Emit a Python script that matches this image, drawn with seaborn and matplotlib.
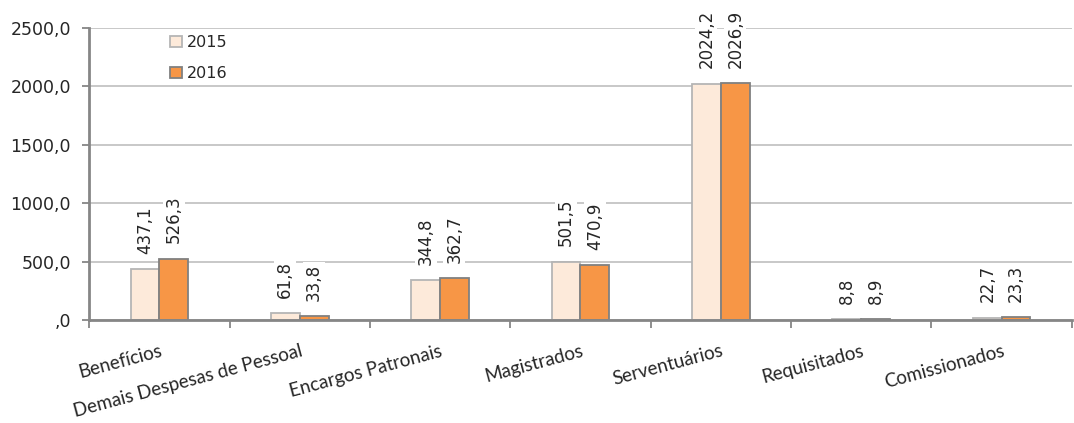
import pandas as pd
import seaborn as sns
import matplotlib.pyplot as plt
from matplotlib.ticker import FuncFormatter, FixedLocator

categories = ['Benefícios', 'Demais Despesas de Pessoal', 'Encargos Patronais',
              'Magistrados', 'Serventuários', 'Requisitados', 'Comissionados']
values_2015 = [437.1, 61.8, 344.8, 501.5, 2024.2, 8.8, 22.7]
values_2016 = [526.3, 33.8, 362.7, 470.9, 2026.9, 8.9, 23.3]
years = ['2015', '2016']

sns.set_theme(style='white')
plt.rcParams['font.family'] = ['DejaVu Sans']

data = pd.DataFrame({
    'categoria': categories * 2,
    'valor': values_2015 + values_2016,
    'ano': [years[0]] * len(categories) + [years[1]] * len(categories),
})

fig = plt.figure(figsize=(10.74, 4.23), dpi=100)
ax = fig.add_axes([0.083, 0.243, 0.915, 0.691])

palette = {'2015': '#FDEADA', '2016': '#F79646'}
sns.barplot(data=data, x='categoria', y='valor', hue='ano', palette=palette,
            width=0.41, gap=0, saturation=1, ax=ax, legend=True)

edge = {'2015': '#B5B5B5', '2016': '#808080'}
for cont, yr in zip(ax.containers, years):
    for b in cont:
        b.set_edgecolor(edge[yr])
        b.set_linewidth(1.3)
    ax.bar_label(cont, labels=[f'{v:.1f}'.replace('.', ',') for v in cont.datavalues],
                 rotation=90, padding=11, fontsize=12,
                 bbox=dict(facecolor='white', edgecolor='none', pad=1.5))

ax.set_ylim(0, 2500)
ax.set_xlim(-0.5, len(categories) - 0.5)
ax.yaxis.set_major_locator(FixedLocator([0, 500, 1000, 1500, 2000, 2500]))
ax.yaxis.set_major_formatter(FuncFormatter(
    lambda v, p: ',0' if v == 0 else f'{v:.1f}'.replace('.', ',')))
ax.grid(axis='y', color='#C4C4C4', linewidth=1.3)
ax.set_axisbelow(True)

ax.set_xticks(range(len(categories)))
ax.set_xticklabels(categories, rotation=15, ha='right', va='top',
                   rotation_mode='anchor', fontsize=13.5, family=['Lato', 'DejaVu Sans'])
ax.set_xticks([i - 0.5 for i in range(len(categories) + 1)], minor=True)
ax.tick_params(axis='x', which='major', length=0, pad=16)
ax.tick_params(axis='x', which='minor', length=6, width=1.3, color='#868686', bottom=True)
ax.tick_params(axis='y', length=5, width=1.3, color='#868686', left=True,
               labelsize=12.5, pad=8)

for s in ['top', 'right']:
    ax.spines[s].set_visible(False)
for s in ['left', 'bottom']:
    ax.spines[s].set_color('#868686')
    ax.spines[s].set_linewidth(2)

ax.set_xlabel('')
ax.set_ylabel('')

handles, labels = ax.get_legend_handles_labels()
leg = ax.legend(handles, labels, loc='upper left', bbox_to_anchor=(0.068, 1.025),
                frameon=False, fontsize=11.5, handlelength=0.75, handleheight=0.75,
                labelspacing=1.0, handletextpad=0.3)
for h, yr in zip(leg.legend_handles, years):
    h.set_edgecolor(edge[yr])
    h.set_linewidth(1.3)

fig.savefig('out.png', dpi=100)
